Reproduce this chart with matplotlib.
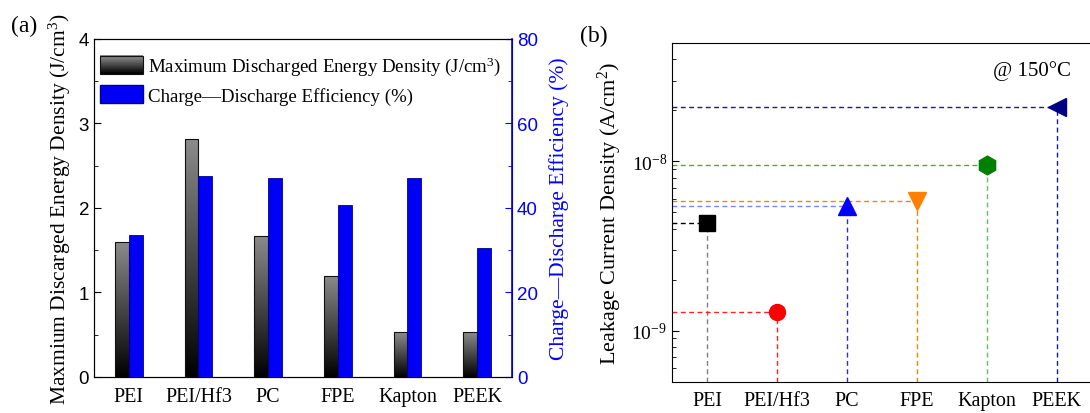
import matplotlib
matplotlib.use("Agg")
import matplotlib.pyplot as plt
import numpy as np
from matplotlib.colors import LinearSegmentedColormap
from matplotlib.patches import Patch, Rectangle
from matplotlib.legend_handler import HandlerBase
from matplotlib.ticker import MultipleLocator, LogLocator, NullFormatter, FixedLocator

plt.rcParams['font.family'] = ['Liberation Serif', 'DejaVu Serif']
plt.rcParams['mathtext.fontset'] = 'custom'
plt.rcParams['mathtext.rm'] = 'Liberation Serif'
plt.rcParams['mathtext.it'] = 'Liberation Serif:italic'

# 数据
categories = ['PEI', 'PEI/Hf3', 'PC', 'FPE', 'Kapton', 'PEEK']
energy_density = [1.60, 2.82, 1.67, 1.20, 0.53, 0.53]      # J/cm3
efficiency = [33.7, 47.5, 47.1, 40.7, 47.1, 30.6]           # %
leakage = [4.35e-9, 1.29e-9, 5.45e-9, 5.85e-9, 9.5e-9, 2.1e-8]  # A/cm2

markers = ['s', 'o', '^', 'v', 'h', '<']
marker_colors = ['#000000', '#ff0000', '#0000ff', '#ff8000', '#008000', '#000080']
hline_colors = ['#000000', '#ff2020', '#8080ff', '#ff8000', '#40b040', '#1a1a99']
vline_colors = ['#808080', '#ff2020', '#2a2aff', '#ff8000', '#60c060', '#1a1a99']
marker_sizes = [11, 11.5, 13, 13, 13.5, 13.5]

gray_cmap = LinearSegmentedColormap.from_list('g', ['#000000', '#8c8c8c'])


class GradientHandler(HandlerBase):
    """图例中的渐变色块"""
    def create_artists(self, legend, orig_handle, xdescent, ydescent, width, height, fontsize, trans):
        arts = []
        n = 24
        for k in range(n):
            arts.append(Rectangle((-xdescent, -ydescent + height * k / n), width, height / n + 0.2,
                                  facecolor=gray_cmap(k / (n - 1)), edgecolor='none', transform=trans))
        arts.append(Rectangle((-xdescent, -ydescent), width, height, facecolor='none',
                              edgecolor='#111111', lw=0.8, transform=trans))
        return arts


fig = plt.figure(figsize=(10.9, 4.14), dpi=100)

# ---------- (a) 柱状图 ----------
ax = fig.add_axes([0.0862, 0.087, 0.3835, 0.8164])
ax2 = ax.twinx()
x = np.arange(1, len(categories) + 1)
w = 0.2

grad = np.linspace(0, 1, 256).reshape(-1, 1)
bars = ax.bar(x - w / 2, energy_density, width=w, color='none', edgecolor='#111111', linewidth=0.8, zorder=3)
for b in bars:
    x0, h = b.get_x(), b.get_height()
    im = ax.imshow(grad, extent=[x0, x0 + w, 0, h], origin='lower', aspect='auto',
                   cmap=gray_cmap, zorder=2)
    im.set_clip_path(b)

ax2.bar(x + w / 2, efficiency, width=w, color='#0000f5', edgecolor='#000090', linewidth=0.6, zorder=3)

ax.set_xlim(0.5, 6.5)
ax.set_ylim(0, 4)
ax2.set_ylim(0, 80)
ax.set_xticks(x)
ax.set_xticklabels(categories, fontsize=14.5)
ax.tick_params(axis='x', length=0, pad=7)
ax.yaxis.set_major_locator(MultipleLocator(1))
ax.yaxis.set_minor_locator(MultipleLocator(0.5))
ax.tick_params(axis='y', which='both', direction='in', labelsize=13.5)
ax.tick_params(axis='y', which='major', length=5)
ax.tick_params(axis='y', which='minor', length=3)
for lab in ax.get_yticklabels():
    lab.set_family('Liberation Sans')

ax2.yaxis.set_major_locator(MultipleLocator(20))
ax2.yaxis.set_minor_locator(MultipleLocator(10))
ax2.tick_params(axis='y', which='both', direction='in', colors='#0000ff', labelsize=13.5)
ax2.tick_params(axis='y', which='major', length=5)
ax2.tick_params(axis='y', which='minor', length=3)
for lab in ax2.get_yticklabels():
    lab.set_family('Liberation Sans')
ax2.spines['right'].set_color('#0000ff')
ax2.spines['right'].set_linewidth(1.2)

ax.set_ylabel('Maxmium Discarged Energy Density (J/cm$^3$)', fontsize=15.5, labelpad=4)
ax2.set_ylabel('Charge\u2014Discharge Efficiency (%)', fontsize=15.5, color='#0000ff', labelpad=8)

handles = [Patch(facecolor='#444444', edgecolor='#111111'),
           Patch(facecolor='#0000f5', edgecolor='#000090')]
labels = ['Maximum Discharged Energy Density (J/cm$^3$)', 'Charge\u2014Discharge Efficiency (%)']
ax2.legend(handles, labels, loc='upper left', bbox_to_anchor=(0.0, 0.97), frameon=False, fontsize=13.6,
           handlelength=2.27, handleheight=1.1, handletextpad=0.27, borderaxespad=0.0, borderpad=0.3,
           labelspacing=0.42, handler_map={handles[0]: GradientHandler()})

fig.text(0.010, 0.937, '(a)', fontsize=17, va='center')

# ---------- (b) 漏电流 ----------
bx = fig.add_axes([0.6165, 0.0756, 0.3853, 0.818])
bx.set_yscale('log')
ymin, ymax = 5e-10, 5e-8
for i, (xi, yi) in enumerate(zip(x, leakage)):
    bx.plot([0.5, xi], [yi, yi], linestyle='--', dashes=(3.5, 2.5), lw=1, color=hline_colors[i], zorder=2)
    bx.plot([xi, xi], [ymin, yi], linestyle='--', dashes=(3.5, 2.5), lw=1, color=vline_colors[i], zorder=2)
    bx.plot(xi, yi, marker=markers[i], ms=marker_sizes[i], color=marker_colors[i],
            markeredgecolor=marker_colors[i], linestyle='none', zorder=4)

bx.set_xlim(0.5, 6.5)
bx.set_ylim(ymin, ymax)
bx.set_xticks(x)
bx.set_xticklabels(categories, fontsize=14.5)
bx.tick_params(axis='x', length=0, pad=7)
bx.yaxis.set_major_locator(FixedLocator([1e-9, 1e-8]))
bx.yaxis.set_minor_locator(LogLocator(base=10, subs=np.arange(2, 10)))
bx.yaxis.set_minor_formatter(NullFormatter())
bx.tick_params(axis='y', which='both', direction='in', labelsize=14)
bx.tick_params(axis='y', which='major', length=5)
bx.tick_params(axis='y', which='minor', length=3)
bx.set_ylabel('Leakage Current Density (A/cm$^2$)', fontsize=16, labelpad=5)
bx.text(0.857, 0.92, '@ 150\u00b0C', transform=bx.transAxes, fontsize=15, ha='center', va='center')

fig.text(0.532, 0.913, '(b)', fontsize=17, va='center')

fig.savefig('out.png', dpi=100)
